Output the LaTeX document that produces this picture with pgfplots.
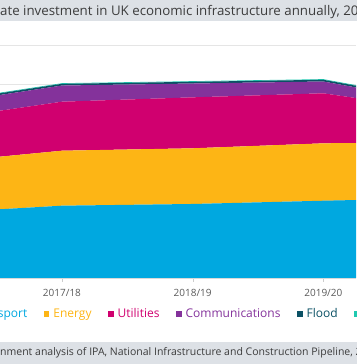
\documentclass[border=0pt]{standalone}
\usepackage{fontspec}
\setmainfont{Open Sans}
\usepackage{pgfplots}
\pgfplotsset{compat=1.18}
\definecolor{ctrans}{HTML}{00A8E0}
\definecolor{cenergy}{HTML}{FDB515}
\definecolor{cutil}{HTML}{D0006F}
\definecolor{ccomm}{HTML}{84329B}
\definecolor{cflood}{HTML}{0B5165}
\definecolor{cwaste}{HTML}{1FC9B0}
\definecolor{band}{HTML}{DDE1E6}
\definecolor{txt}{HTML}{3C3C3C}
\definecolor{tick}{HTML}{5A5A5A}
\begin{document}
\begin{tikzpicture}[x=1pt,y=1pt]
\fill[band] (-50,343) rectangle (406,380);
\fill[band] (-50,-20) rectangle (406,22);
\node[anchor=base east,inner sep=0,text=txt,font=\fontsize{13.3}{16}\selectfont] at (0,348.5) {Expected public and priv};
\node[anchor=base west,inner sep=0,text=txt,font=\fontsize{13.3}{16}\selectfont] at (0,348.5) {ate investment in UK economic infrastructure annually, 2016/17 to 2020/21};
\node[anchor=base east,inner sep=0,text=txt,font=\fontsize{10.5}{12}\selectfont] at (0,8.5) {Source: Gover};
\node[anchor=base west,inner sep=0,text=txt,font=\fontsize{10.5}{12}\selectfont] at (0,8.5) {nment analysis of IPA, National Infrastructure and Construction Pipeline, 2018};
\begin{axis}[
  at={(0pt,319pt)}, anchor=north west,
  scale only axis, width=356pt, height=233pt,
  xmin=0.526, xmax=3.25, ymin=0, ymax=30,
  stack plots=y,
  axis x line*=bottom, axis y line*=left,
  y axis line style={draw=none},
  x axis line style={draw=black!15},
  ytick={0,5,...,30}, yticklabels={}, y tick style={draw=none},
  ymajorgrids, major grid style={draw=black!10},
  xtick={1,2,3}, xticklabels={2017/18,2018/19,2019/20},
  x tick style={draw=black!20}, tick align=outside, major tick length=4pt,
  xticklabel style={font=\fontsize{10}{12}\selectfont, text=tick, yshift=-4pt},
  /pgf/number format/assume math mode=true,
  legend columns=-1,
  legend style={at={(axis description cs:0.5106,-0.1545)}, anchor=center, draw=none, fill=none,
    font=\fontsize{12}{14}\selectfont, inner xsep=1pt,
    /tikz/every odd column/.append style={column sep=2pt},
    /tikz/every even column/.append style={column sep=14.5pt}},
  legend image code/.code={\fill[#1] (0pt,-2.8pt) rectangle (5.6pt,2.8pt);},
]
\addplot[fill=ctrans, draw=none] coordinates {(0,8.34) (1,9.31) (2,9.53) (3,9.95) (4,10.31)} \closedcycle;
\addlegendentry{\textcolor{ctrans}{Transport}}
\addplot[fill=cenergy, draw=none] coordinates {(0,6.43) (1,7.08) (2,7.17) (3,7.39) (4,7.19)} \closedcycle;
\addlegendentry{\textcolor{cenergy}{Energy}}
\addplot[fill=cutil, draw=none] coordinates {(0,5.48) (1,6.31) (2,6.56) (3,6.44) (4,3.84)} \closedcycle;
\addlegendentry{\textcolor{cutil}{Utilities}}
\addplot[fill=ccomm, draw=none] coordinates {(0,1.96) (1,2.08) (2,1.78) (3,1.52) (4,0.88)} \closedcycle;
\addlegendentry{\textcolor{ccomm}{Communications}}
\addplot[fill=cflood, draw=none] coordinates {(0,0.22) (1,0.22) (2,0.22) (3,0.22) (4,0.22)} \closedcycle;
\addlegendentry{\textcolor{cflood}{Flood}}
\addplot[fill=cwaste, draw=none] coordinates {(0,0.08) (1,0.08) (2,0.08) (3,0.08) (4,0.08)} \closedcycle;
\addlegendentry{\textcolor{cwaste}{Waste}}
\end{axis}
\pgfresetboundingbox
\useasboundingbox (0,0) rectangle (356,364);
\end{tikzpicture}
\end{document}
